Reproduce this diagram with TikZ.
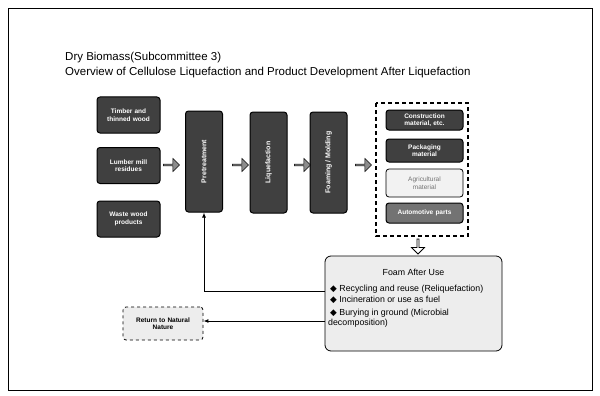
\documentclass[tikz,border=0pt]{standalone}
\usepackage{fontspec}
\setmainfont{Liberation Sans}
\newfontfamily\symfont{DejaVu Sans}
\newcommand{\bul}{{\symfont ◆}}
\usetikzlibrary{shapes.arrows,arrows.meta}
\begin{document}
\begin{tikzpicture}[x=1pt,y=-1pt,
  darkbox/.style={draw=black,line width=1pt,fill=black!75,text=white,rounded corners=3pt,
    align=center,font=\fontsize{6.5}{7.5}\selectfont\bfseries,inner sep=1pt},
  tallbox/.style={darkbox,minimum width=37,minimum height=101},
  tallcap/.style={rotate=90,text=white,font=\fontsize{7}{8}\selectfont\bfseries},
  srcbox/.style={darkbox,minimum width=63,minimum height=36,text width=60},
  prodbox/.style={darkbox,minimum width=77,text width=74},
  lightbox/.style={draw=black,line width=0.8pt,fill=black!10,rounded corners=3pt,
    align=center,font=\fontsize{6}{7}\selectfont,inner sep=1pt},
  flowarrow/.style={single arrow,draw=black,fill=black!45,line width=0.6pt,
    minimum height=16,minimum width=13,single arrow head extend=2,inner sep=0pt},
  link/.style={line width=1pt,-{Latex[length=5pt,width=4pt]}},
  after/.style={anchor=west,font=\fontsize{8.8}{10}\selectfont,inner sep=0}
]
\useasboundingbox (0,0) rectangle (600,396);
% page frame
\draw[line width=0.8pt] (8,8) rectangle (592,390);

% heading
\node[anchor=west,font=\fontsize{11.5}{13}\selectfont,inner sep=0] (t1) at (65,58)
  {Dry Biomass(Subcommittee 3)};
\node[anchor=west,font=\fontsize{11.5}{13}\selectfont,inner sep=0] (t2) at (65,73)
  {Overview of Cellulose Liquefaction and Product Development After Liquefaction};

% raw materials
\node[srcbox] (s1) at (128.5,115) {Timber and\\thinned wood};
\node[srcbox] (s2) at (128.5,165.5) {Lumber mill\\residues};
\node[srcbox] (s3) at (128.5,219) {Waste wood\\products};

% processing steps
\node[tallbox] (p1) at (204,161.5) {};
\node[tallcap] at (p1) {Pretreatment};
\node[tallbox] (p2) at (268.5,162.5) {};
\node[tallcap] at (p2) {Liquefaction};
\node[tallbox] (p3) at (328.5,162.5) {};
\node[tallcap] at (p3) {Foaming / Molding};

% flow arrows
\node[flowarrow] (a1) at (171,165) {};
\node[flowarrow] (a2) at (240,165) {};
\node[flowarrow] (a3) at (302,165) {};
\node[flowarrow] (a4) at (363,165) {};

% products
\draw[line width=1.3pt,dash pattern=on 4pt off 3pt] (376,103) rectangle (468,236);
\node[prodbox,minimum height=20] (r1) at (424.5,120) {Construction\\material, etc.};
\node[prodbox,minimum height=23] (r2) at (424.5,150.5) {Packaging\\material};
\node[lightbox,fill=black!5,minimum width=77,minimum height=28,text width=74,text=black!55,
  font=\fontsize{6.5}{7.5}\selectfont] (r3) at (424.5,183) {Agricultural\\material};
\node[prodbox,fill=black!55,minimum height=20] (r4) at (424.5,213) {Automotive parts};

% down arrow to after-use box
\node[single arrow,draw=black,fill=white,line width=0.8pt,rotate=-90,
  minimum height=15,minimum width=13,single arrow head extend=2,inner sep=0pt] (dn) at (418,246) {};

% after use
\node[lightbox,fill=black!7,minimum width=177,minimum height=95,rounded corners=6pt] (f) at (413.5,303.5) {};
\node[font=\fontsize{8.8}{10}\selectfont] (fh) at (413.5,272) {Foam After Use};
\node[after] (b1) at (330,289) {\bul\ Recycling and reuse (Reliquefaction)};
\node[after] (b2) at (330,299.5) {\bul\ Incineration or use as fuel};
\node[after] (b3) at (330,313) {\bul\ Burying in ground (Microbial};
\node[after] (b4) at (328,323.5) {decomposition)};

% return to nature
\node[lightbox,fill=black!7,minimum width=80,minimum height=33,dashed,text width=76,
  font=\fontsize{6.5}{7.5}\selectfont\bfseries] (n) at (163,323.5)
  {Return to Natural\\Nature};

% connectors
\coordinate (turn) at (p1.south |- 0,291);
\draw[link] (f.west |- 0,291) -- (turn) -- (p1.south);
\draw[link] (f.west |- 0,321) -- (n.east |- 0,321);
\end{tikzpicture}
\end{document}
